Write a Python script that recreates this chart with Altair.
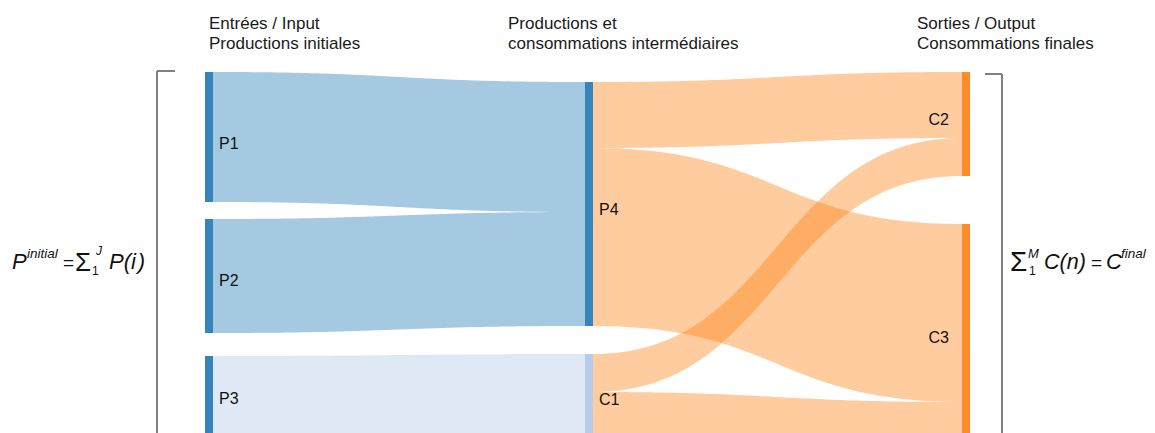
import altair as alt
import pandas as pd
import numpy as np

# ---------------- data ----------------
nodes = ["P1", "P2", "P3", "P4", "C1", "C2", "C3"]
node_column = [0, 0, 0, 1, 1, 2, 2]
node_colors = ["#1f77b4", "#1f77b4", "#1f77b4", "#1f77b4", "#aec7e8", "#ff7f0e", "#ff7f0e"]

link_source = ["P1", "P2", "P3", "P4", "P4", "C1", "C1"]
link_target = ["P4", "P4", "C1", "C2", "C3", "C2", "C3"]
link_value = [130, 114, 86, 66, 178, 38, 48]

header_lines = [
    ["Entrées / Input", "Productions initiales"],
    ["Productions et", "consommations intermédiaires"],
    ["Sorties / Output", "Consommations finales"],
]

# ---------------- layout parameters (screen px) ----------------
W, H = 1139, 425
col_x = [205, 585, 962]
col_top = [72, 82, 72]
col_gaps = {0: [0, 17, 23], 1: [0, 28], 2: [0, 48]}
label_shift = [5, 3, -2, 4, 1, -6, -1]
node_w = 8
header_x = [209, 508, 917]
FONT = "Liberation Sans"

# ---------------- sankey layout ----------------
val_in = {n: 0 for n in nodes}
val_out = {n: 0 for n in nodes}
for s, t, v in zip(link_source, link_target, link_value):
    val_out[s] += v
    val_in[t] += v
node_val = {n: max(val_in[n], val_out[n]) for n in nodes}

pos = {}
for c in range(3):
    members = [n for n, cc in zip(nodes, node_column) if cc == c]
    y = col_top[c]
    for n, g in zip(members, col_gaps[c]):
        y += g
        pos[n] = (col_x[c], col_x[c] + node_w, y, y + node_val[n])
        y += node_val[n]

node_df = pd.DataFrame({
    "node": nodes,
    "x0": [pos[n][0] for n in nodes],
    "x1": [pos[n][1] for n in nodes],
    "y0": [pos[n][2] for n in nodes],
    "y1": [pos[n][3] for n in nodes],
    "col": node_column,
})
node_df["ymid"] = (node_df["y0"] + node_df["y1"]) / 2 + np.array(label_shift)
node_df["lx"] = np.where(node_df["col"] == 2, node_df["x0"] - 13, node_df["x1"] + 6)
node_df["side"] = np.where(node_df["col"] == 2, "right", "left")

# link offsets
out_off = {n: pos[n][2] for n in nodes}
in_off = {n: pos[n][2] for n in nodes}
links = list(zip(link_source, link_target, link_value))
src_y = {}
for i in sorted(range(len(links)), key=lambda i: (links[i][0], pos[links[i][1]][2])):
    s, t, v = links[i]
    src_y[i] = out_off[s]
    out_off[s] += v
tgt_y = {}
for i in sorted(range(len(links)), key=lambda i: (links[i][1], pos[links[i][0]][2])):
    s, t, v = links[i]
    tgt_y[i] = in_off[t]
    in_off[t] += v

rows = []
ss = np.linspace(0, 1, 80)
for i, (s, t, v) in enumerate(links):
    x0 = pos[s][1]
    x1 = pos[t][0]
    xm = (x0 + x1) / 2
    for u in ss:
        bx = (1 - u) ** 3 * x0 + 3 * (1 - u) ** 2 * u * xm + 3 * (1 - u) * u ** 2 * xm + u ** 3 * x1
        by = src_y[i] + (tgt_y[i] - src_y[i]) * (3 * u ** 2 - 2 * u ** 3)
        rows.append({"link": f"{s}-{t}", "x": bx, "top": by, "bot": by + v})
link_df = pd.DataFrame(rows)
link_ids = [f"{s}-{t}" for s, t in zip(link_source, link_target)]
link_colors = [node_colors[nodes.index(t)] for t in link_target]

# ---------------- scales ----------------
xs = alt.Scale(domain=[8, 8 + W], nice=False, zero=False)
ys = alt.Scale(domain=[8, 8 + H], nice=False, zero=False, reverse=True)


def X(f):
    return alt.X(f, type="quantitative", scale=xs, axis=None)


def Y(f):
    return alt.Y(f, type="quantitative", scale=ys, axis=None)


link_layer = alt.Chart(link_df).mark_area(opacity=0.4, clip=True, interpolate="linear").encode(
    x=X("x"),
    y=alt.Y("top:Q", scale=ys, axis=None, stack=None),
    y2="bot:Q",
    color=alt.Color("link:N", scale=alt.Scale(domain=link_ids, range=link_colors), legend=None),
    detail="link:N",
)

node_layer = alt.Chart(node_df).mark_rect(opacity=0.9, clip=True).encode(
    x=X("x0"), x2="x1", y=Y("y0"), y2="y1",
    color=alt.Color("node:N", scale=alt.Scale(domain=nodes, range=node_colors), legend=None),
)

lab_left = alt.Chart(node_df[node_df["side"] == "left"]).mark_text(
    align="left", baseline="middle", font=FONT, fontSize=16, color="#111", dy=2
).encode(x=X("lx"), y=Y("ymid"), text="node:N")
lab_right = alt.Chart(node_df[node_df["side"] == "right"]).mark_text(
    align="right", baseline="middle", font=FONT, fontSize=16, color="#111", dy=2
).encode(x=X("lx"), y=Y("ymid"), text="node:N")

# headers
hdr_rows = []
for hx, lines in zip(header_x, header_lines):
    for k, line in enumerate(lines):
        hdr_rows.append({"x": hx, "y": 29 + 19.5 * k, "t": line})
hdr_df = pd.DataFrame(hdr_rows)
hdr_layer = alt.Chart(hdr_df).mark_text(
    align="left", baseline="alphabetic", font=FONT, fontSize=17, color="#1a1a1a"
).encode(x=X("x"), y=Y("y"), text="t:N")

# brackets
br_df = pd.DataFrame({
    "x": [157, 157, 1002, 985],
    "y": [71, 71, 74, 74],
    "x2": [157, 175, 1002, 1002],
    "y2": [433, 71, 433, 74],
})
br_layer = alt.Chart(br_df).mark_rule(color="#808080", strokeWidth=2, clip=True).encode(
    x=X("x"), y=Y("y"), x2="x2", y2="y2"
)

# formulas
form = pd.DataFrame([
    ("P", 12, 269, 22, "italic"),
    ("initial", 27, 258, 13.5, "italic"),
    ("=", 63, 269, 19, "normal"),
    ("\u03a3", 75, 271, 26, "normal"),
    ("1", 92, 275, 12, "normal"),
    ("J", 96, 255, 12, "italic"),
    ("P(i\u200a)", 109, 269, 22, "italic"),
    ("\u03a3", 1010, 271, 28, "normal"),
    ("M", 1028, 258, 13, "italic"),
    ("1", 1029, 275, 12, "normal"),
    ("C(n)", 1044, 269, 21.5, "italic"),
    ("=", 1091, 269, 19, "normal"),
    ("C", 1106, 269, 22, "italic"),
    ("final", 1121, 258, 13.5, "italic"),
], columns=["t", "x", "y", "s", "style"])

form_it = alt.Chart(form[form["style"] == "italic"]).mark_text(
    align="left", baseline="alphabetic", font=FONT, fontStyle="italic", color="#111"
).encode(x=X("x"), y=Y("y"), text="t:N", size=alt.Size("s:Q", scale=None))
form_nm = alt.Chart(form[form["style"] == "normal"]).mark_text(
    align="left", baseline="alphabetic", font=FONT, color="#111"
).encode(x=X("x"), y=Y("y"), text="t:N", size=alt.Size("s:Q", scale=None))

chart = alt.layer(
    link_layer, node_layer, lab_left, lab_right, hdr_layer, br_layer, form_it, form_nm
).resolve_scale(color="independent").properties(
    width=W, height=H, padding=0, autosize=alt.AutoSizeParams(type="none")
).configure_view(stroke=None)

chart.save("out.html", embed_options={"renderer": "svg", "actions": False})
